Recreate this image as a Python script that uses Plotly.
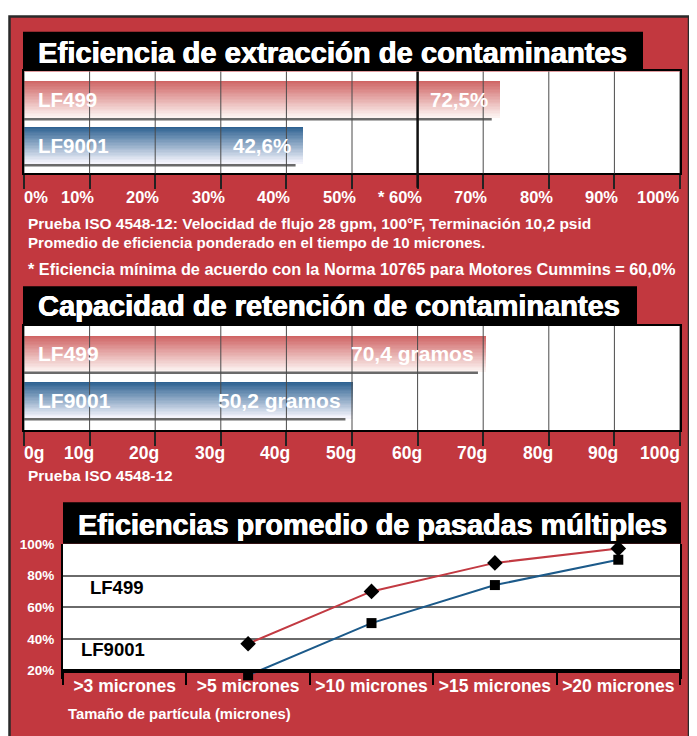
import plotly.graph_objects as go

# page body has an 8px margin, so the figure occupies page pixels 8..697 x 8..736
OFF = 8
W, H = 689, 728

# ---------------- data ----------------
eff_models = ["LF499", "LF9001"]
eff_values = [72.5, 42.6]
eff_value_labels = ["72,5%", "42,6%"]
eff_tick_values = [0, 10, 20, 30, 40, 50, 60, 70, 80, 90, 100]
eff_tick_labels = ["0%", "10%", "20%", "30%", "40%", "50%", "* 60%", "70%", "80%", "90%", "100%"]
eff_minimum = 60

cap_models = ["LF499", "LF9001"]
cap_values = [70.4, 50.2]
cap_value_labels = ["70,4 gramos", "50,2 gramos"]
cap_tick_values = [0, 10, 20, 30, 40, 50, 60, 70, 80, 90, 100]
cap_tick_labels = ["0g", "10g", "20g", "30g", "40g", "50g", "60g", "70g", "80g", "90g", "100g"]

mp_categories = [">3 micrones", ">5 micrones", ">10 micrones", ">15 micrones", ">20 micrones"]
mp_lf499 = [None, 37, 70, 88, 97]
mp_lf9001 = [None, 17, 50, 74, 90]
mp_tick_values = [20, 40, 60, 80, 100]
mp_tick_labels = ["20%", "40%", "60%", "80%", "100%"]

title_eff = "Eficiencia de extracción de contaminantes"
title_cap = "Capacidad de retención de contaminantes"
title_mp = "Eficiencias promedio de pasadas múltiples"
notes_eff = ["Prueba ISO 4548-12: Velocidad de flujo 28 gpm, 100°F, Terminación 10,2 psid",
             "Promedio de eficiencia ponderado en el tiempo de 10 micrones."]
note_min = "* Eficiencia mínima de acuerdo con la Norma 10765 para Motores Cummins = 60,0%"
note_cap = "Prueba ISO 4548-12"
mp_xtitle = "Tamaño de partícula (micrones)"

# ---------------- style ----------------
RED_BG = "#C2383F"
FONT = "Liberation Sans, Arial, sans-serif"
BAR_TOP = {"LF499": (207, 100, 100), "LF9001": (46, 98, 146)}
BAR_BOT = {"LF499": (252, 242, 240), "LF9001": (244, 244, 252)}
LINE_RED = "#C23A42"
LINE_BLUE = "#1C5A8A"
HEAVY = "0.6px 0 0 white, -0.3px 0 0 white"


def fx(px):
    return (px - OFF) / W


def fy(py):
    return 1 - (py - OFF) / H


def mix(a, b, t):
    return "rgb({},{},{})".format(*[round(a[i] + (b[i] - a[i]) * t) for i in range(3)])


fig = go.Figure()
shapes = []
ann = []

# background panel
shapes.append(dict(type="rect", xref="paper", yref="paper", x0=fx(9.5), x1=fx(689), y0=fy(750), y1=fy(9.5),
                   fillcolor=RED_BG, line=dict(color="#2a2a2a", width=2.5), layer="below"))


def gradient_bars(models, values, xa, ya, bw, n=26):
    ypos = [len(models) - 1 - i for i in range(len(models))]
    h = bw / n
    for k in range(n):
        t = k / (n - 1)
        colors = [mix(BAR_TOP[m], BAR_BOT[m], t) for m in models]
        fig.add_trace(go.Bar(x=values, y=ypos, orientation="h",
                             width=h * (1.4 if k > 0 else 1.0),
                             offset=bw / 2 - (k + 1) * h,
                             marker=dict(color=colors, line=dict(width=0)),
                             xaxis=xa, yaxis=ya, hoverinfo="skip", showlegend=False))
    for i, v in enumerate(values):
        yb = ypos[i] - bw / 2 - 0.025
        fig.add_trace(go.Scatter(x=[0, v - 1.2], y=[yb, yb], mode="lines",
                                 line=dict(color="#6a6a6a", width=2.5),
                                 xaxis=xa, yaxis=ya, hoverinfo="skip", showlegend=False))


def bar_panel(models, values, value_labels, tick_values, tick_labels, xa, ya, label_y, thick=None,
              label_size=20.5, tick_size=16.5):
    ypos = [len(models) - 1 - i for i in range(len(models))]
    for i, m in enumerate(models):
        ann.append(dict(x=0, y=ypos[i], xref=xa, yref=ya, text=m, showarrow=False,
                        xanchor="left", xshift=12, yanchor="middle",
                        font=dict(family=FONT, size=label_size, color="white", weight="bold")))
        ann.append(dict(x=values[i], y=ypos[i], xref=xa, yref=ya, text=value_labels[i], showarrow=False,
                        xanchor="right", xshift=-10, yanchor="middle",
                        font=dict(family=FONT, size=label_size, color="white", weight="bold")))
    for tv, tl in zip(tick_values, tick_labels):
        if tv == tick_values[0]:
            xa_, xs = "left", -2
        elif tv == tick_values[-1]:
            xa_, xs = "right", 2
        else:
            xa_, xs = "right", 6
        ann.append(dict(x=tv, y=fy(label_y), xref=xa, yref="paper", text=tl, showarrow=False,
                        xanchor=xa_, xshift=xs, yanchor="middle",
                        font=dict(family=FONT, size=tick_size, color="white", weight="bold")))
        is_thick = thick is not None and tv == thick
        shapes.append(dict(type="line", xref=xa, yref=ya + " domain", x0=tv, x1=tv,
                           y0=(-0.14 if is_thick else 0), y1=1,
                           line=dict(color="#111" if is_thick else "#4a4a4a", width=2.5 if is_thick else 1),
                           layer="above"))


# ---------- panel 1 ----------
gradient_bars(eff_models, eff_values, "x", "y", 0.8)
bar_panel(eff_models, eff_values, eff_value_labels, eff_tick_values, eff_tick_labels, "x", "y", 192,
          thick=eff_minimum)
# ---------- panel 2 ----------
gradient_bars(cap_models, cap_values, "x2", "y2", 0.77)
bar_panel(cap_models, cap_values, cap_value_labels, cap_tick_values, cap_tick_labels, "x2", "y2", 450,
          label_size=21, tick_size=17.5)

# white plot areas
for xr, yr in [("x", "y"), ("x2", "y2")]:
    shapes.append(dict(type="rect", xref=xr + " domain", yref=yr + " domain", x0=0, x1=1, y0=0, y1=1,
                       fillcolor="white", line=dict(width=0), layer="below"))
shapes.append(dict(type="rect", xref="x3 domain", yref="y3", x0=0, x1=1,
                   y0=mp_tick_values[0], y1=mp_tick_values[-1],
                   fillcolor="white", line=dict(width=0), layer="below"))

# ---------- panel 3 ----------
fig.add_trace(go.Scatter(x=mp_categories, y=mp_lf499, mode="lines+markers", xaxis="x3", yaxis="y3",
                         line=dict(color=LINE_RED, width=2),
                         marker=dict(symbol="diamond", size=12, color="black"),
                         cliponaxis=False, showlegend=False, hoverinfo="skip"))
fig.add_trace(go.Scatter(x=mp_categories, y=mp_lf9001, mode="lines+markers", xaxis="x3", yaxis="y3",
                         line=dict(color=LINE_BLUE, width=2),
                         marker=dict(symbol="square", size=10, color="black"),
                         cliponaxis=False, showlegend=False, hoverinfo="skip"))
ann.append(dict(x=fx(88), y=fy(586), xref="paper", yref="paper", text="LF499", showarrow=False,
                xanchor="left", yanchor="middle", font=dict(family=FONT, size=18.5, color="black", weight="bold")))
ann.append(dict(x=fx(79), y=fy(649), xref="paper", yref="paper", text="LF9001", showarrow=False,
                xanchor="left", yanchor="middle", font=dict(family=FONT, size=18.5, color="black", weight="bold")))

# ---------- titles ----------
for (x0, x1, y0, y1, tx, ty, text, size) in [(23, 643, 25, 64, 36, 46, title_eff, 29.2),
                                             (23, 637, 282, 321, 36, 302, title_cap, 29),
                                             (63, 681, 500, 542, 76, 523, title_mp, 28.8)]:
    shapes.append(dict(type="rect", xref="paper", yref="paper", x0=fx(x0), x1=fx(x1), y0=fy(y1), y1=fy(y0),
                       fillcolor="black", line=dict(width=0), layer="above"))
    ann.append(dict(x=fx(tx), y=fy(ty), xref="paper", yref="paper", text=text, showarrow=False,
                    xanchor="left", yanchor="middle",
                    font=dict(family=FONT, size=size, color="white", weight="bold", shadow=HEAVY)))

# ---------- notes ----------
for text, px, py, size in [(notes_eff[0], 26, 219, 15.5), (notes_eff[1], 26, 238, 15.1),
                           (note_min, 26, 264, 16.3), (note_cap, 26, 473, 15.5), (mp_xtitle, 66, 714, 14.8)]:
    ann.append(dict(x=fx(px), y=fy(py), xref="paper", yref="paper", text=text, showarrow=False,
                    xanchor="left", yanchor="middle",
                    font=dict(family=FONT, size=size, color="white", weight="bold")))

bar_x_common = dict(range=[0, 100], showgrid=False, zeroline=False, showticklabels=False,
                    ticks="outside", ticklen=14, tickwidth=1.5, tickcolor="#222",
                    tickvals=eff_tick_values, showline=True, linecolor="black", linewidth=2, mirror=True,
                    fixedrange=True)
bar_y_common = dict(showgrid=False, zeroline=False, showticklabels=False, showline=True,
                    linecolor="black", linewidth=2, mirror=True, fixedrange=True)

fig.update_layout(
    width=W, height=H, margin=dict(l=0, r=0, t=0, b=0, pad=0),
    paper_bgcolor="white", plot_bgcolor="rgba(0,0,0,0)",
    barmode="overlay", bargap=0, showlegend=False,
    xaxis=dict(domain=[fx(24), fx(680)], anchor="y", **bar_x_common),
    yaxis=dict(domain=[fy(168), fy(65)], anchor="x", range=[-0.602, 1.613], **bar_y_common),
    xaxis2=dict(domain=[fx(24), fx(680)], anchor="y2", **bar_x_common),
    yaxis2=dict(domain=[fy(427), fy(322)], anchor="x2", range=[-0.638, 1.596], **bar_y_common),
    # x axis drawn at the 20% level; y scale reaches a little lower so the first square shows
    xaxis3=dict(domain=[fx(63), fx(680)], anchor="free", position=fy(670), type="category",
                categoryorder="array", categoryarray=mp_categories, range=[-0.5, 4.5], tickson="boundaries",
                ticks="outside", ticklen=13, tickwidth=2, tickcolor="black", showgrid=False,
                showline=True, linecolor="black", linewidth=3.5, mirror=False, ticklabelstandoff=-1,
                tickfont=dict(family=FONT, size=17.5, color="white", weight="bold"), fixedrange=True),
    yaxis3=dict(domain=[fy(678), fy(542)], anchor="x3", range=[15, 100], tickvals=mp_tick_values,
                ticktext=mp_tick_labels, showgrid=True, gridcolor="#6a6a6a", gridwidth=1.5,
                zeroline=False, showline=True, linecolor="black", linewidth=2, mirror=True,
                ticks="", ticklabelstandoff=4,
                tickfont=dict(family=FONT, size=13.5, color="white", weight="bold"), fixedrange=True),
    shapes=shapes, annotations=ann,
)

fig.write_html("out.html")
